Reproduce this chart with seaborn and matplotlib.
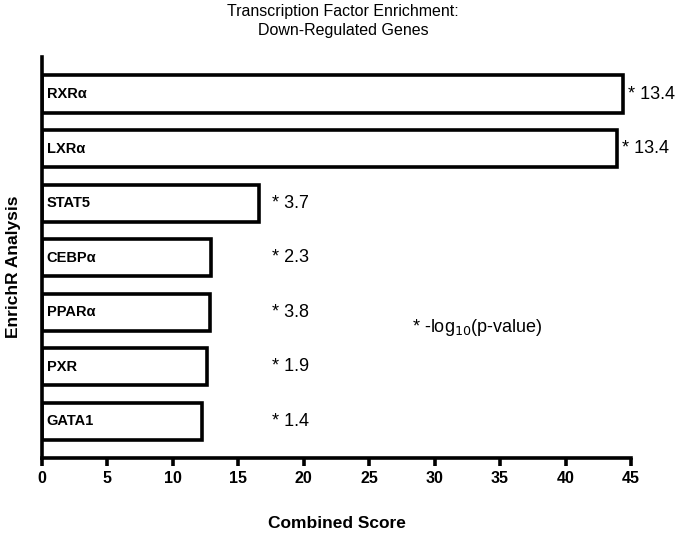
import numpy as np
import matplotlib
matplotlib.use("Agg")
import matplotlib.pyplot as plt
import seaborn as sns
import pandas as pd

# data
factors = ["RXRα", "LXRα", "STAT5", "CEBPα", "PPARα", "PXR", "GATA1"]
combined_score = [44.4, 43.9, 16.6, 12.9, 12.85, 12.6, 12.2]
neg_log_p = ["13.4", "13.4", "3.7", "2.3", "3.8", "1.9", "1.4"]

df = pd.DataFrame({"factor": factors, "score": combined_score})

sns.set_style("ticks", {"axes.edgecolor": "black", "xtick.color": "black",
                        "text.color": "black", "axes.labelcolor": "black"})
plt.rcParams["font.family"] = ["Liberation Sans", "DejaVu Sans"]

fig = plt.figure(figsize=(6.77, 5.37), dpi=100)
ax = fig.add_axes([0.062, 0.147, 0.870, 0.747])

sns.barplot(data=df, x="score", y="factor", orient="h", color="white",
            edgecolor="black", linewidth=2.6, width=0.68, ax=ax)

ax.set_xlim(0, 45)
ax.set_ylim(6.67, -0.68)
ax.set_xticks(np.arange(0, 46, 5))
ax.set_yticks([])
for lbl in ax.get_xticklabels():
    lbl.set_fontweight("bold")
ax.tick_params(axis="x", labelsize=11.5, width=2.6, length=6, direction="out", pad=3,
               colors="black")

sns.despine(ax=ax)
ax.spines["left"].set_linewidth(2.6)
ax.spines["bottom"].set_linewidth(2.6)

# names inside bars, p-value labels beside them
for i, (name, val, p) in enumerate(zip(factors, combined_score, neg_log_p)):
    ax.text(0.35, i, name, va="center", ha="left", fontsize=10.5, fontweight="bold")
    xpos = val + 0.4 if val > 30 else 17.6
    ax.text(xpos, i, "* " + p, va="center", ha="left", fontsize=13)

ax.text(28.3, 4.28, "* -log$_{10}$(p-value)", va="center", ha="left", fontsize=13)

ax.set_xlabel("Combined Score", fontsize=12.5, fontweight="bold", labelpad=22)
ax.set_ylabel("EnrichR Analysis", fontsize=12.5, fontweight="bold")
ax.yaxis.set_label_coords(-0.036, 0.476)

fig.text(343 / 677, 1 - 21 / 537, "Transcription Factor Enrichment:\nDown-Regulated Genes",
         ha="center", va="center", fontsize=11.5, linespacing=1.35)

fig.savefig("out.png", dpi=100)
